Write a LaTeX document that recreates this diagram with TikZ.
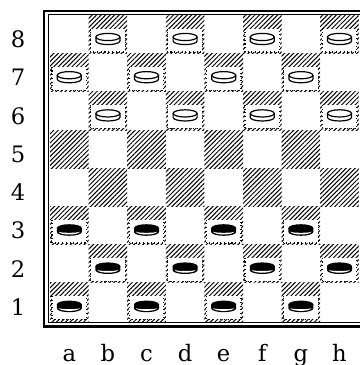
\documentclass[tikz,border=0pt]{standalone}
\usepackage{fontspec}
\setmainfont{DejaVu Serif}
\usetikzlibrary{patterns.meta}
\tikzset{
  hatch/.style={pattern={Lines[angle=45,distance=2.4pt,line width=0.75pt]}},
  halo/.style={dotted,line width=0.8pt},
  lbl/.style={inner sep=0pt,font=\fontsize{17}{17}\selectfont},
  outerframe/.style={line width=1.8pt},
  innerframe/.style={line width=0.7pt},
  piece/.style={line width=0.9pt}
}
\begin{document}
\begin{tikzpicture}[x=0.75pt,y=-0.75pt]
\useasboundingbox (0,0) rectangle (360,365);
\clip (0,0) rectangle (360,365);
\fill[white] (0,0) rectangle (360,365);
% frame
\draw[outerframe] (44,11) rectangle (420,326.5);
\draw[innerframe] (48.5,14.5) rectangle (415,322.5);
% squares and pieces
\foreach \i in {0,...,7}{
  \foreach \r in {1,...,8}{
    \pgfmathtruncatemacro\dk{mod(\i+\r,2)}
    \ifnum\dk=1
      \pgfmathsetmacro\X{50+38.6*\i}
      \pgfmathsetmacro\Y{15.5+(8-\r)*38.2}
      \fill[hatch] (\X,\Y) rectangle ({\X+38.6},{\Y+38.2});
      \pgfmathsetmacro\cx{\X+19.3}
      \pgfmathsetmacro\cy{\Y+23.5}
      \ifnum\r<4
        \fill[white] ({\X+2},{\Y+13}) rectangle ({\X+36.6},{\Y+36.5});
        \draw[halo] ({\X+2},{\Y+13}) -- ({\X+2},{\Y+36.5}) -- ({\X+36.6},{\Y+36.5}) -- ({\X+36.6},{\Y+13});
        \fill[black] ({\cx-12.5},{\cy-2}) -- ({\cx-12.5},{\cy+2}) arc[start angle=180,end angle=0,x radius=12.5,y radius=3.8] -- ({\cx+12.5},{\cy-2}) -- cycle;
        \fill[black] (\cx,{\cy-2}) ellipse[x radius=12.5,y radius=3.8];
        \fill[white] ({\cx-10.5},{\cy+1.6}) arc[start angle=180,end angle=0,x radius=10.5,y radius=2.9] arc[start angle=0,end angle=180,x radius=10.5,y radius=1.2] -- cycle;
      \fi
      \ifnum\r>5
        \fill[white] ({\X+2},{\Y+13}) rectangle ({\X+36.6},{\Y+36.5});
        \draw[halo] ({\X+2},{\Y+13}) -- ({\X+2},{\Y+36.5}) -- ({\X+36.6},{\Y+36.5}) -- ({\X+36.6},{\Y+13});
        \draw[piece,fill=white] ({\cx-12},{\cy-2}) -- ({\cx-12},{\cy+2}) arc[start angle=180,end angle=0,x radius=12,y radius=3.6] -- ({\cx+12},{\cy-2});
        \draw[piece,fill=white] (\cx,{\cy-2}) ellipse[x radius=12,y radius=3.6];
      \fi
    \fi
  }
}
% rank labels
\foreach \r in {1,...,8}{
  \pgfmathsetmacro\ly{15.5+(8-\r)*38.2+24}
  \node[lbl] (rank\r) at (18,\ly) {\r};
}
% file labels
\foreach \f [count=\i from 0] in {a,b,c,d,e,f,g,h}{
  \pgfmathsetmacro\lx{50+38.6*\i+19.3}
  \node[lbl,anchor=base] (file\f) at (\lx,361) {\f};
}
\end{tikzpicture}
\end{document}
